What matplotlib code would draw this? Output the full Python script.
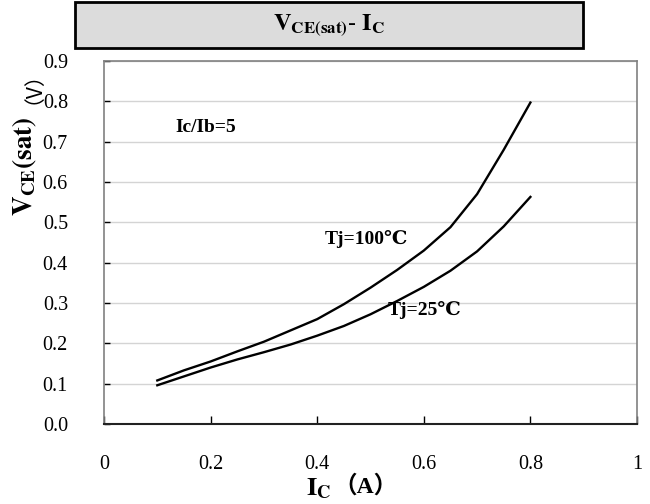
import matplotlib
matplotlib.use("Agg")
import matplotlib.pyplot as plt
from matplotlib.patches import Rectangle

# Data
ic = [0.10, 0.15, 0.20, 0.25, 0.30, 0.35, 0.40, 0.45, 0.50, 0.55, 0.60, 0.65, 0.70, 0.75, 0.80]
v_100 = [0.108, 0.133, 0.155, 0.180, 0.204, 0.232, 0.260, 0.297, 0.338, 0.382, 0.430, 0.488, 0.570, 0.680, 0.797]
v_25 = [0.096, 0.118, 0.140, 0.160, 0.178, 0.197, 0.219, 0.243, 0.272, 0.305, 0.340, 0.380, 0.428, 0.490, 0.563]
xticks = [0, 0.2, 0.4, 0.6, 0.8, 1.0]
xtick_labels = ["0", "0.2", "0.4", "0.6", "0.8", "1"]
yticks = [0.0, 0.1, 0.2, 0.3, 0.4, 0.5, 0.6, 0.7, 0.8, 0.9]
ytick_labels = ["0.0", "0.1", "0.2", "0.3", "0.4", "0.5", "0.6", "0.7", "0.8", "0.9"]

plt.rcParams['mathtext.fontset'] = 'stix'
serif = ['Liberation Serif', 'DejaVu Serif', 'Noto Sans CJK SC']
cjk = ['Noto Sans CJK SC', 'Liberation Serif']

W, H = 650, 504
fig = plt.figure(figsize=(W / 100, H / 100), dpi=100)
ax = fig.add_axes([104 / W, 1 - 424 / H, (637 - 104) / W, (424 - 61) / H])

ax.plot(ic, v_100, color='black', lw=1.7, solid_joinstyle='round')
ax.plot(ic, v_25, color='black', lw=1.7, solid_joinstyle='round')

ax.set_xlim(0, 1)
ax.set_ylim(0, 0.9)
ax.set_xticks(xticks)
ax.set_xticklabels(xtick_labels, family=serif, fontsize=14.5)
ax.set_yticks(yticks)
ax.set_yticklabels(ytick_labels, family=serif, fontsize=14.5)
ax.tick_params(axis='x', direction='in', length=6, width=1, pad=22, colors='black')
ax.tick_params(axis='y', direction='in', length=4, width=1, pad=26, colors='black')

ax.grid(axis='y', color='#d4d4d4', lw=1)
ax.set_axisbelow(True)
for s in ['left', 'top', 'right']:
    ax.spines[s].set_color('#808080')
    ax.spines[s].set_linewidth(1.2)
ax.spines['bottom'].set_color('#222222')
ax.spines['bottom'].set_linewidth(1.5)

ax.text(0.19, 0.735, 'Ic/Ib=5', family=serif, fontweight='bold', fontsize=14,
        ha='center', va='center')
ax.text(0.493, 0.459, 'Tj=100℃', family=serif, fontweight='bold', fontsize=14,
        ha='center', va='center')
ax.text(0.602, 0.283, 'Tj=25℃', family=serif, fontweight='bold', fontsize=14,
        ha='center', va='center')

# Title box
fig.patches.append(Rectangle((75 / W, 1 - 48 / H), 508 / W, 46 / H,
                             transform=fig.transFigure, facecolor='#dcdcdc',
                             edgecolor='black', lw=2, zorder=0))
fig.text(329 / W, 1 - 26 / H,
         r'$\mathbf{V}_{\mathbf{CE(sat)}}\mathbf{\text{-}\ I}_{\mathbf{C}}$',
         fontsize=17.5, ha='center', va='center')

# Y axis label: bold math part (bottom) + CJK unit part (top)
fig.text(25 / W, 1 - 216 / H, r'$\mathbf{V}_{\mathbf{CE}}\mathbf{(sat)}$',
         fontsize=19.5, rotation=90, ha='center', va='bottom')
fig.text(23 / W, 1 - 104 / H, '（V）', family=cjk, fontsize=15,
         rotation=90, ha='center', va='bottom')

# X axis label
fig.text(331 / W, 1 - 495 / H, r'$\mathbf{I}_{\mathbf{C}}$',
         fontsize=19, ha='right', va='baseline')
fig.text(333 / W, 1 - 486 / H, '（A）', family=serif, fontsize=17,
         fontweight='bold', ha='left', va='center')

fig.savefig('out.png', dpi=100)
